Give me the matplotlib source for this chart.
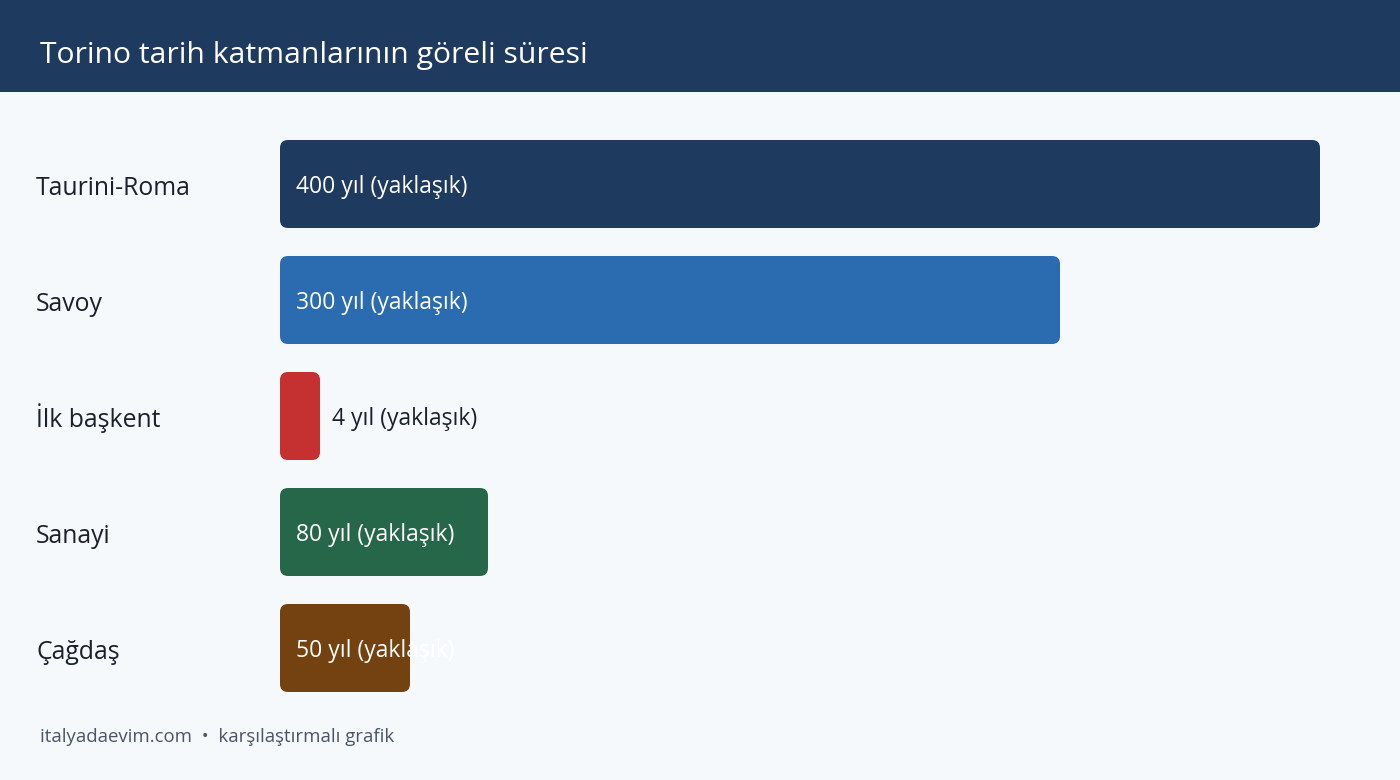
import matplotlib
matplotlib.use("Agg")
import matplotlib.pyplot as plt
from matplotlib.patches import FancyBboxPatch, Rectangle

plt.rcParams['font.family'] = ['Open Sans', 'DejaVu Sans']

# data
categories = ['Taurini-Roma', 'Savoy', 'İlk başkent', 'Sanayi', 'Çağdaş']
years = [400, 300, 4, 80, 50]
value_labels = ['400 yıl (yaklaşık)', '300 yıl (yaklaşık)', '4 yıl (yaklaşık)',
                '80 yıl (yaklaşık)', '50 yıl (yaklaşık)']
colors = ['#1f3a5f', '#2b6cb0', '#c53030', '#276749', '#744210']

title = 'Torino tarih katmanlarının göreli süresi'
footer = 'italyadaevim.com  •  karşılaştırmalı grafik'

W, H = 1400, 780
fig = plt.figure(figsize=(W / 100, H / 100), dpi=100)
fig.patch.set_facecolor('#f5f9fc')

# header band
fig.patches.append(Rectangle((0, 1 - 92 / H), 1, 92 / H, transform=fig.transFigure,
                             facecolor='#1f3a5f', edgecolor='none', zorder=0))
fig.text(40 / W, 1 - 63 / H, title, color='white', fontsize=21.7, va='baseline', ha='left')

# plot area: x 280..1320 px, y 126..706 px
ax = fig.add_axes([280 / W, 1 - 706 / H, 1040 / W, 580 / H])
ax.set_facecolor('none')
ax.set_xlim(0, 400)
ax.set_ylim(len(categories) - 0.5, -0.5)
ax.axis('off')

px_x = 1040 / 400          # px per year
px_y = 580 / len(categories)  # px per row
bar_h = 88 / px_y
radius = 8 / px_x
min_w = 40 / px_x

for i, (cat, v, lab, c) in enumerate(zip(categories, years, value_labels, colors)):
    w = max(v, min_w)
    box = FancyBboxPatch((0, i - bar_h / 2), w, bar_h,
                         boxstyle=f'round,pad=0,rounding_size={radius}',
                         mutation_aspect=px_x / px_y,
                         facecolor=c, edgecolor='none')
    ax.add_patch(box)
    yb = i + 9 / px_y
    if v < 20:
        ax.text(w + 12 / px_x, yb, lab, color='#1a202c', fontsize=16.5, va='baseline', ha='left')
    else:
        ax.text(16 / px_x, yb, lab, color='white', fontsize=16.5, va='baseline', ha='left')
    ax.text(-244 / px_x, i + 11 / px_y, cat, color='#1a202c', fontsize=17.8,
            va='baseline', ha='left')

fig.text(40 / W, 1 - 742 / H, footer, color='#4a5568', fontsize=13.4, va='baseline', ha='left')

fig.savefig('out.png', dpi=100, facecolor=fig.get_facecolor())
